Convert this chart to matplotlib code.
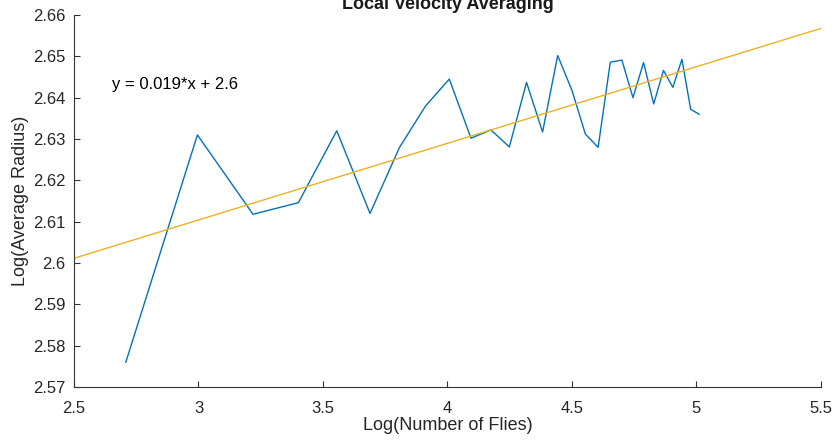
import numpy as np
import matplotlib
matplotlib.use('Agg')
import matplotlib.pyplot as plt

# number of flies in each run (x axis is the natural log of this)
n_flies = [15, 20, 25, 30, 35, 40, 45, 50, 55, 60, 65, 70, 75, 80,
           85, 90, 95, 100, 105, 110, 115, 120, 125, 130, 135, 140, 145, 150]

# log of the average radius
log_radius = [2.5760, 2.6310, 2.6118, 2.6146, 2.6320, 2.6120, 2.6279, 2.6380,
              2.6445, 2.6302, 2.6322, 2.6281, 2.6437, 2.6317, 2.6502, 2.6418,
              2.6312, 2.6280, 2.6486, 2.6491, 2.6400, 2.6485, 2.6385, 2.6466,
              2.6425, 2.6493, 2.6372, 2.6360]

x_ticks = [2.5, 3, 3.5, 4, 4.5, 5, 5.5]
x_labels = ['2.5', '3', '3.5', '4', '4.5', '5', '5.5']
y_ticks = [2.57, 2.58, 2.59, 2.6, 2.61, 2.62, 2.63, 2.64, 2.65, 2.66]
y_labels = ['2.57', '2.58', '2.59', '2.6', '2.61', '2.62', '2.63',
            '2.64', '2.65', '2.66']

plt.rcParams['font.family'] = ['Liberation Sans', 'DejaVu Sans']

x = np.log(n_flies)
y = np.array(log_radius)

# linear fit drawn across the whole x range
slope, intercept = np.polyfit(x, y, 1)
fit_x = np.array([2.5, 5.5])
fit_y = slope * fit_x + intercept

fig = plt.figure(figsize=(8.36, 4.41), dpi=100)
ax = fig.add_axes([0.0885, 0.1224, 0.8935, 0.8435])

ax.plot(x, y, color='#0072BD', linewidth=1.0)
ax.plot(fit_x, fit_y, color='#EDB120', linewidth=1.0)

ax.text(2.651, 2.6431, 'y = 0.019*x + 2.6', fontsize=12, va='center', ha='left',
        color='#000000')

ax.set_xlim(2.5, 5.5)
ax.set_ylim(2.57, 2.66)
ax.set_xticks(x_ticks)
ax.set_xticklabels(x_labels)
ax.set_yticks(y_ticks)
ax.set_yticklabels(y_labels)

for side in ['top', 'right']:
    ax.spines[side].set_visible(False)
for side in ['left', 'bottom']:
    ax.spines[side].set_color('#333333')
    ax.spines[side].set_linewidth(0.8)
ax.tick_params(direction='in', length=4.5, width=0.8, color='#333333',
               labelsize=12, labelcolor='#262626')
ax.tick_params(axis='x', pad=10)
ax.tick_params(axis='y', pad=6)

ax.set_xlabel('Log(Number of Flies)', fontsize=13, color='#262626', labelpad=1)
ax.set_ylabel('Log(Average Radius)', fontsize=13, color='#262626', labelpad=3)
ax.set_title('Local Velocity Averaging', fontsize=13, fontweight='bold',
             color='#1a1a1a', pad=4.5)

fig.savefig('out.png', dpi=100)
